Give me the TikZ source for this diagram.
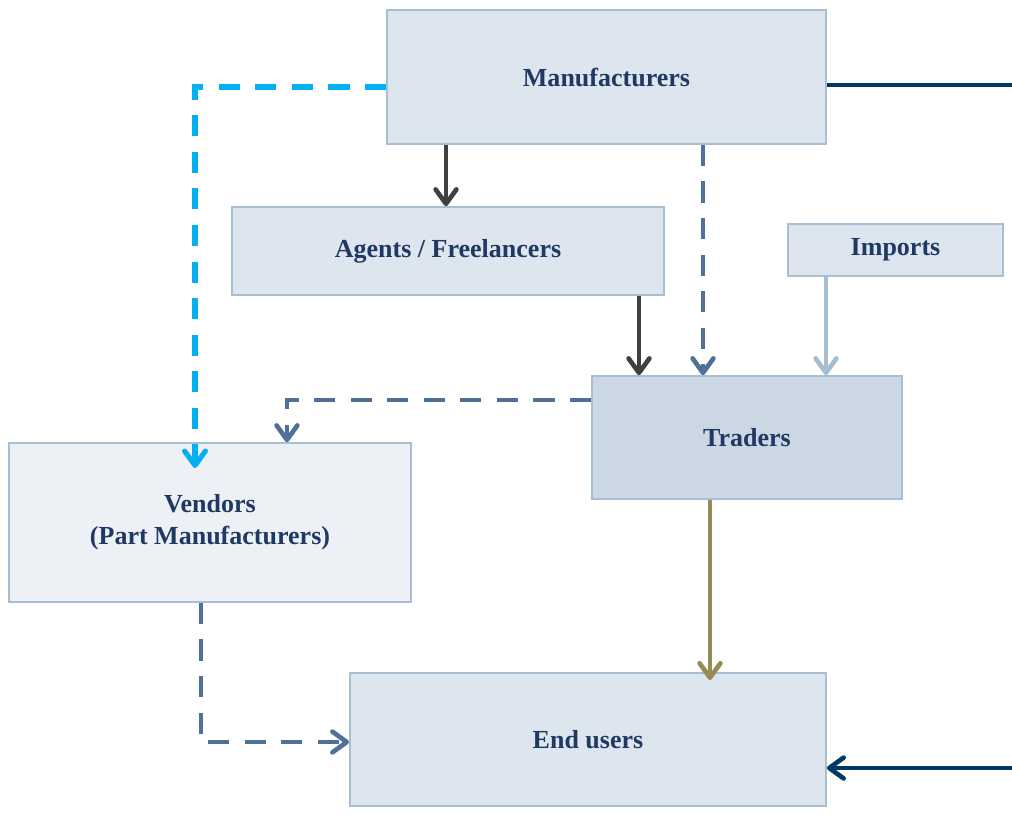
\documentclass[tikz,border=0pt]{standalone}
\usepackage{fontspec}
\setmainfont{Liberation Serif}
\usetikzlibrary{arrows.meta}
\definecolor{boxline}{RGB}{167,191,212}
\definecolor{boxfill}{RGB}{221,230,238}
\definecolor{boxdark}{RGB}{203,216,227}
\definecolor{boxlight}{RGB}{237,241,246}
\definecolor{txt}{RGB}{31,56,100}
\definecolor{steel}{RGB}{79,112,151}
\definecolor{cyanish}{RGB}{0,176,240}
\definecolor{graydark}{RGB}{64,64,64}
\definecolor{paleblue}{RGB}{165,189,209}
\definecolor{olive}{RGB}{148,138,84}
\definecolor{navy}{RGB}{0,55,100}
\tikzset{
    >={Straight Barb[length=0.36cm,width=0.52cm,line cap=round,line join=round]},
    blk/.style={draw=boxline,line width=1.2pt,fill=boxfill,inner sep=0pt,align=center,
        text=txt,font=\fontsize{18.5}{23}\selectfont\bfseries},
    conn/.style={->,line width=3.3pt},
    dashline/.style={dash pattern=on 15pt off 11pt}
}

\begin{document}
\begin{tikzpicture}[x=0.025cm,y=-0.025cm]
    \useasboundingbox (0,0) rectangle (1012,837);
    % boxes
    \node[blk,minimum width=10.975cm,minimum height=3.35cm] (m) at (606.5,77) {Manufacturers};
    \node[blk,minimum width=10.8cm,minimum height=2.2cm]    (a) at (448,251) {Agents / Freelancers};
    \node[blk,minimum width=5.375cm,minimum height=1.3cm]   (i) at (895.5,250) {Imports};
    \node[blk,fill=boxdark,minimum width=7.75cm,minimum height=3.075cm] (t) at (747,437.5) {Traders};
    \node[blk,fill=boxlight,minimum width=10.05cm,minimum height=3.975cm] (v) at (210,522.5) {Vendors\\(Part Manufacturers)};
    \node[blk,minimum width=11.9cm,minimum height=3.325cm]  (e) at (588,739.5) {End users};
    % connectors
    \draw[conn,graydark] (m.south -| 446,0) -- (a.north -| 446,0);
    \draw[conn,graydark] (a.south -| 639,0) -- (t.north -| 639,0);
    \draw[conn,steel,dashline] (m.south -| 703,0) -- (t.north -| 703,0);
    \draw[conn,paleblue] (i.south -| 826,0) -- (t.north -| 826,0);
    \draw[conn,cyanish,dashline,line width=3.6pt] (m.west |- 0,87) -- (195,87) -- (195,468);
    \draw[conn,steel,dashline] (t.west |- 0,400) -- (287,400) -- (v.north -| 287,0);
    \draw[conn,olive] (t.south -| 710,0) -- (710,680);
    \draw[conn,steel,dashline] (v.south -| 201,0) -- (201,742) -- (e.west |- 0,742);
    \draw[conn,navy] (m.east |- 0,85) -- (1015,85) -- (1015,768) -- (e.east |- 0,768);
\end{tikzpicture}
\end{document}
